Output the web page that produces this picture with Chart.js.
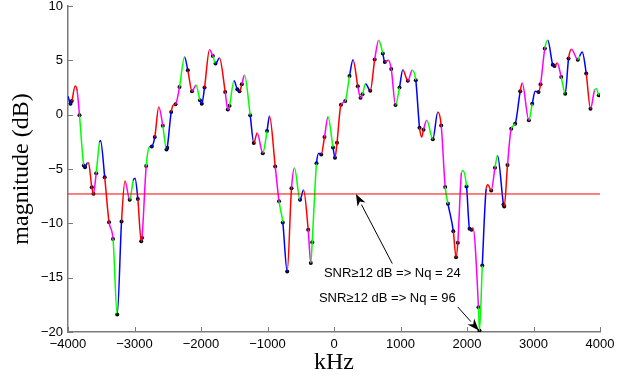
<!DOCTYPE html>
<html>
<head>
<meta charset="utf-8">
<script src="https://cdn.jsdelivr.net/npm/chart.js@4.4.1/dist/chart.umd.min.js"></script>
<style>
  html, body { margin: 0; padding: 0; background: #fff; }
  #wrap { width: 631px; height: 382px; }
</style>
</head>
<body>
<div id="wrap"><canvas id="spectrum"></canvas></div>
<script>
// spectrum trace (kHz / dB)
const freq = [
  -4000, -3962, -3943, -3892, -3862, -3827, -3762, -3744, -3711, -3692,
  -3642, -3617, -3576, -3526, -3511, -3448, -3383, -3323, -3260, -3195,
  -3143, -3072, -3019, -2992, -2950, -2899, -2887, -2824, -2774, -2740,
  -2695, -2635, -2574, -2519, -2508, -2448, -2413, -2383, -2323, -2248,
  -2198, -2135, -2075, -2015, -1988, -1947, -1872, -1822, -1782, -1722,
  -1636, -1597, -1571, -1504, -1454, -1421, -1386, -1346, -1260, -1206,
  -1155, -1071, -1007, -970, -884, -827, -770, -704, -639, -594,
  -511, -458, -388, -349, -328, -263, -228, -192, -143, -90,
  -15, 15, 45, 105, 169, 233, 286, 358, 399, 429,
  474, 545, 612, 672, 734, 764, 817, 861, 925, 985,
  1035, 1110, 1176, 1230, 1286, 1320, 1346, 1396, 1486, 1561,
  1612, 1672, 1714, 1794, 1835, 1862, 1918, 1937, 1993, 2038,
  2068, 2090, 2173, 2188, 2230, 2289, 2313, 2364, 2421, 2459,
  2549, 2560, 2609, 2665, 2725, 2800, 2830, 2930, 2981, 3026,
  3076, 3106, 3170, 3215, 3290, 3316, 3356, 3417, 3477, 3527,
  3572, 3666, 3692, 3733, 3793, 3857, 3918, 3943, 3982
];
const mag = [
  1.70, 1.01, 1.25, 2.63, 2.17, -0.06, -4.67, -4.83, -4.46, -4.42,
  -6.69, -7.27, -5.38, -2.55, -2.37, -5.75, -9.89, -11.44, -18.39, -9.83,
  -6.11, -7.82, -6.05, -5.85, -7.75, -11.64, -11.33, -4.73, -2.97, -2.92,
  -2.06, 0.70, -1.03, -3.20, -3.04, 0.24, 0.90, 0.95, 2.54, 5.30,
  4.08, 2.15, 2.70, 1.32, 1.01, 2.49, 5.97, 5.40, 4.70, 5.21,
  2.08, 0.47, 0.83, 3.11, 2.33, 2.15, 2.79, 3.65, -0.06, -2.60,
  -1.68, -3.54, -1.51, -0.13, -4.76, -7.96, -9.92, -14.43, -6.77, -4.90,
  -7.83, -6.94, -10.59, -13.66, -11.73, -4.48, -3.54, -3.66, -2.06, -0.20,
  -3.01, -3.96, -2.58, 0.92, 1.25, 3.55, 5.05, 2.61, 1.55, 1.87,
  2.85, 2.21, 5.07, 6.84, 5.62, 4.84, 5.00, 4.20, 0.90, 2.51,
  4.13, 3.11, 4.08, 3.16, -1.20, -2.06, -1.38, -0.52, -2.27, 0.24,
  -0.99, -6.65, -8.20, -10.72, -13.11, -11.79, -5.31, -5.13, -6.60, -10.50,
  -10.59, -10.42, -17.72, -19.86, -13.88, -6.81, -6.45, -6.97, -4.88, -3.75,
  -8.26, -8.44, -4.64, -1.29, -0.83, 2.15, 2.91, -0.52, 1.01, 2.15,
  2.08, 2.79, 6.08, 6.84, 4.60, 4.48, 4.75, 3.46, 1.93, 5.16,
  6.01, 5.06, 5.37, 5.76, 3.78, 0.55, 2.24, 2.39, 1.78
];
// which piece of the fit each stretch belongs to (segment starting at point i)
const band = [
  "b","b","r","r","m","g","b","b","r","r",
  "r","m","g","b","b","r","m","g","b","r",
  "m","g","b","b","r","r","m","g","b","b",
  "r","m","g","b","b","r","r","m","g","b",
  "r","m","g","b","b","r","m","g","b","r",
  "m","m","g","b","b","r","m","g","b","r",
  "m","g","b","r","m","g","b","r","m","g",
  "b","r","m","g","g","b","b","r","m","g",
  "b","r","r","m","g","b","r","m","m","g",
  "b","r","m","g","b","r","m","m","g","b",
  "r","m","g","b","r","r","m","g","b","r",
  "m","g","b","r","r","m","g","g","b","b",
  "r","m","g","g","b","r","r","m","g","b",
  "b","r","m","g","b","r","m","g","b","b",
  "r","m","g","b","b","r","m","g","b","r",
  "m","g","b","b","r","m","g","g","g"
];
// 1 = breakpoint marked with a dot
const knot = [
  0,1,1,0,0,1,1,1,0,0,
  1,1,1,0,0,1,1,1,1,1,
  0,1,0,0,1,1,1,1,0,1,
  1,0,1,1,1,1,0,1,1,0,
  1,1,0,1,1,1,0,1,1,0,
  1,1,1,0,1,1,1,0,1,1,
  0,1,1,0,1,1,1,1,1,0,
  1,0,1,1,1,1,0,1,1,0,
  1,1,1,1,1,1,0,1,1,1,
  0,1,1,0,1,1,0,1,1,1,
  0,1,0,1,1,0,1,0,1,0,
  1,1,1,1,1,1,0,0,1,1,
  1,0,1,1,1,0,0,1,1,0,
  1,1,1,1,1,1,0,1,1,0,
  1,1,1,0,1,1,0,1,1,1,
  0,1,0,0,1,1,0,0,1
];
const thresholdDb = -7.3;
const xTicks = [-4000, -3000, -2000, -1000, 0, 1000, 2000, 3000, 4000];
const yTicks = [-20, -15, -10, -5, 0, 5, 10];
const noteText = ["SNR\u226512 dB => Nq = 24", "SNR\u226512 dB => Nq = 96"];

const palette = { r: "#ff0000", g: "#00ff00", b: "#0000ff", m: "#ff00ff" };
const axisGray = "#7a7a7a";
const sans = "'Liberation Sans', Arial, sans-serif";
const serif = "'Liberation Serif', 'Times New Roman', serif";

// annotation placement in data units
const notes = [
  { text: noteText[0], at: [877, -14.6], tail: [876, -13.7], head: [330, -7.3] },
  { text: noteText[1], at: [802, -16.9], tail: [1862, -17.7], head: [2178, -19.86] }
];

const curve = freq.map((f, i) => ({ x: f, y: mag[i] }));
const dots = curve.filter((p, i) => knot[i]);

const minus = v => String(v).replace("-", "\u2212");

function drawArrow(ctx, x1, y1, x2, y2) {
  const a = Math.atan2(y2 - y1, x2 - x1);
  const len = 12, hw = 4.5;
  const bx = x2 - len * Math.cos(a), by = y2 - len * Math.sin(a);
  ctx.beginPath();
  ctx.moveTo(x1, y1);
  ctx.lineTo(bx, by);
  ctx.stroke();
  ctx.beginPath();
  ctx.moveTo(x2, y2);
  ctx.lineTo(bx + hw * Math.sin(a), by - hw * Math.cos(a));
  ctx.lineTo(x2 - 0.7 * len * Math.cos(a), y2 - 0.7 * len * Math.sin(a));
  ctx.lineTo(bx - hw * Math.sin(a), by + hw * Math.cos(a));
  ctx.closePath();
  ctx.fill();
}

const extras = {
  id: "extras",
  afterDraw(chart) {
    const { ctx, chartArea: area, scales: { x, y } } = chart;
    ctx.save();
    // matlab style ticks pointing inwards
    ctx.strokeStyle = axisGray;
    ctx.lineWidth = 1;
    ctx.beginPath();
    xTicks.forEach(v => {
      const px = Math.round(x.getPixelForValue(v)) + 0.5;
      ctx.moveTo(px, area.bottom);
      ctx.lineTo(px, area.bottom - 5);
    });
    yTicks.forEach(v => {
      const py = Math.round(y.getPixelForValue(v)) + 0.5;
      ctx.moveTo(area.left, py);
      ctx.lineTo(area.left + 5, py);
    });
    ctx.stroke();

    // text + arrows
    ctx.fillStyle = "#000";
    ctx.strokeStyle = "#000";
    ctx.lineWidth = 1;
    ctx.font = "13px " + sans;
    ctx.textAlign = "center";
    ctx.textBaseline = "middle";
    notes.forEach(n => {
      ctx.fillText(n.text, x.getPixelForValue(n.at[0]), y.getPixelForValue(n.at[1]));
      drawArrow(ctx,
        x.getPixelForValue(n.tail[0]), y.getPixelForValue(n.tail[1]),
        x.getPixelForValue(n.head[0]), y.getPixelForValue(n.head[1]));
    });
    ctx.restore();
  }
};

function squeeze(size) {
  return scale => {
    if (scale.isHorizontal()) scale.height = size; else scale.width = size;
    scale.paddingTop = 0; scale.paddingBottom = 0;
    scale.paddingLeft = 0; scale.paddingRight = 0;
  };
}

new Chart(document.getElementById("spectrum"), {
  type: "line",
  data: {
    datasets: [
      {
        data: [{ x: -4000, y: thresholdDb }, { x: 4000, y: thresholdDb }],
        borderColor: "#ff0000",
        borderWidth: 1,
        pointRadius: 0
      },
      {
        data: curve,
        borderWidth: 1.5,
        pointRadius: 0,
        cubicInterpolationMode: "monotone",
        segment: { borderColor: c => palette[band[c.p0DataIndex]] }
      },
      {
        type: "scatter",
        data: dots,
        pointRadius: 2,
        pointBackgroundColor: "#000",
        pointBorderWidth: 0
      }
    ]
  },
  options: {
    responsive: true,
    maintainAspectRatio: false,
    animation: false,
    devicePixelRatio: 1,
    layout: { padding: { top: 6, right: 31, left: 0, bottom: 0 } },
    plugins: { legend: { display: false }, tooltip: { enabled: false } },
    scales: {
      x: {
        type: "linear",
        min: -4000,
        max: 4000,
        afterFit: squeeze(50),
        afterBuildTicks: s => { s.ticks = xTicks.map(v => ({ value: v })); },
        grid: { drawOnChartArea: false, drawTicks: false },
        border: { color: axisGray, width: 1.5 },
        ticks: { color: "#000", padding: 5, maxRotation: 0, font: { family: sans, size: 13 }, callback: minus },
        title: { display: true, text: "kHz", color: "#000", font: { family: serif, size: 24, lineHeight: 1.2 }, padding: { top: 0, bottom: 5 } }
      },
      y: {
        min: -20,
        max: 10,
        afterFit: squeeze(68),
        afterBuildTicks: s => { s.ticks = yTicks.map(v => ({ value: v })); },
        grid: { drawOnChartArea: false, drawTicks: false },
        border: { color: axisGray, width: 1.5 },
        ticks: { color: "#000", padding: 5, font: { family: sans, size: 13 }, callback: minus },
        title: { display: true, text: "magnitude (dB)", color: "#000", font: { family: serif, size: 24, lineHeight: 1.2 }, padding: { top: 7, bottom: 0 } }
      }
    }
  },
  plugins: [extras]
});
</script>
</body>
</html>
